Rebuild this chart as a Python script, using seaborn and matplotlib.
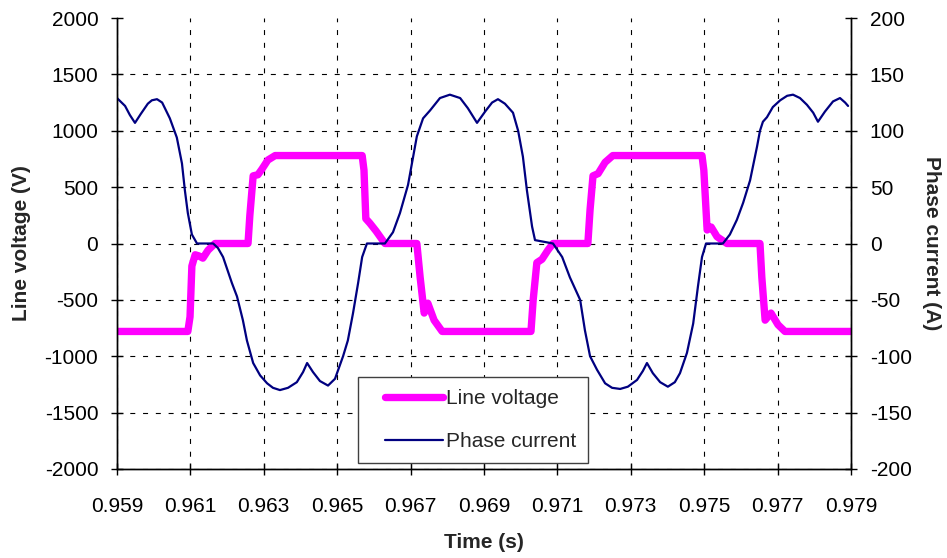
import numpy as np
import pandas as pd
import matplotlib
matplotlib.use("Agg")
import matplotlib.pyplot as plt
from matplotlib.lines import Line2D
from matplotlib.legend_handler import HandlerLine2D
import seaborn as sns

# ---------------- data ----------------
time_v = [0.95900, 0.96093, 0.96099, 0.96104, 0.96113, 0.96123, 0.96134, 0.96148, 0.96167,
          0.96257, 0.96262, 0.96271, 0.96284, 0.96295, 0.96311, 0.96331,
          0.96568, 0.96573, 0.96578, 0.96589, 0.96606, 0.96630,
          0.96717, 0.96726, 0.96737, 0.96747, 0.96764, 0.96786,
          0.97028, 0.97034, 0.97044, 0.97058, 0.97074, 0.97088,
          0.97183, 0.97189, 0.97197, 0.97211, 0.97230, 0.97251,
          0.97494, 0.97499, 0.97508, 0.97519, 0.97535, 0.97562,
          0.97652, 0.97657, 0.97666, 0.97682, 0.97701, 0.97720, 0.97900]
line_voltage = [-780, -780, -650, -200, -100, -110, -130, -60, 0,
                0, 250, 600, 610, 660, 740, 780,
                780, 650, 220, 180, 110, 0,
                0, -300, -617, -530, -680, -780,
                -780, -500, -170, -140, -60, 0,
                0, 300, 600, 620, 720, 780,
                780, 650, 120, 146, 60, 0,
                0, -300, -680, -617, -720, -780, -780]

time_i = [0.95900, 0.95922, 0.95935, 0.95949, 0.95965, 0.95984, 0.95995, 0.96009, 0.96023,
          0.96044, 0.96063, 0.96077, 0.96085, 0.96093, 0.96104, 0.96118, 0.96162, 0.96175,
          0.96189, 0.96213, 0.96227, 0.96243, 0.96254, 0.96271, 0.96290, 0.96309, 0.96325,
          0.96344, 0.96366, 0.96390, 0.96407, 0.96418, 0.96434, 0.96453, 0.96475, 0.96494,
          0.96516, 0.96529, 0.96543, 0.96557, 0.96568, 0.96581, 0.96630, 0.96652, 0.96671,
          0.96693, 0.96717, 0.96734, 0.96753, 0.96780, 0.96807, 0.96835, 0.96856, 0.96881,
          0.96903, 0.96922, 0.96938, 0.96957, 0.96979, 0.96993, 0.97006, 0.97017, 0.97031,
          0.97039, 0.97088, 0.97113, 0.97134, 0.97162, 0.97175, 0.97189, 0.97208, 0.97230,
          0.97249, 0.97271, 0.97292, 0.97317, 0.97333, 0.97344, 0.97360, 0.97380, 0.97401,
          0.97420, 0.97434, 0.97453, 0.97470, 0.97483, 0.97494, 0.97505, 0.97551, 0.97570,
          0.97589, 0.97606, 0.97625, 0.97644, 0.97652, 0.97660, 0.97671, 0.97687, 0.97707,
          0.97726, 0.97742, 0.97761, 0.97780, 0.97797, 0.97810, 0.97829, 0.97851, 0.97870,
          0.97884, 0.97892]
phase_current = [129, 122, 114, 107, 115, 124, 127, 128, 125,
                 111, 94, 71, 47, 27, 8, 0, 0, -4,
                 -12, -35, -47, -68, -86, -106, -117, -124, -128,
                 -130, -128, -123, -114, -106, -114, -122, -126, -120,
                 -100, -86, -62, -35, -12, 0, 0, 10, 27,
                 52, 95, 111, 118, 129, 132, 129, 120, 107,
                 117, 125, 128, 124, 116, 100, 77, 47, 15,
                 3, 0, -12, -30, -50, -77, -100, -112, -124,
                 -128, -129, -127, -121, -113, -106, -115, -123, -127,
                 -123, -115, -97, -71, -38, -12, 0, 0, 8,
                 21, 36, 56, 86, 100, 108, 112, 121, 127,
                 131, 132, 129, 123, 116, 108, 117, 126, 129,
                 125, 122]

x_ticks = [0.959, 0.961, 0.963, 0.965, 0.967, 0.969, 0.971, 0.973, 0.975, 0.977, 0.979]
v_ticks = [-2000, -1500, -1000, -500, 0, 500, 1000, 1500, 2000]
i_ticks = [-200, -150, -100, -50, 0, 50, 100, 150, 200]

df_v = pd.DataFrame({"t": time_v, "v": line_voltage})
df_i = pd.DataFrame({"t": time_i, "i": phase_current})

# ---------------- style ----------------
sns.set_style("white")
plt.rcParams["font.family"] = ["Liberation Sans", "DejaVu Sans"]
FS = 15
MAGENTA = "#FF00FF"
NAVY = "#000080"

fig = plt.figure(figsize=(9.47, 5.58), dpi=100)
ax = fig.add_axes([117 / 947, (558 - 469) / 558, 734 / 947, 451 / 558])

sns.lineplot(data=df_v, x="t", y="v", ax=ax, color=MAGENTA, linewidth=5.3,
             estimator=None, sort=False, legend=False,
             solid_capstyle="round", solid_joinstyle="round")

ax2 = ax.twinx()
sns.lineplot(data=df_i, x="t", y="i", ax=ax2, color=NAVY, linewidth=1.6,
             estimator=None, sort=False, legend=False,
             solid_joinstyle="round")

ax.set_xlim(x_ticks[0], x_ticks[-1])
ax.set_ylim(v_ticks[0], v_ticks[-1])
ax2.set_ylim(i_ticks[0], i_ticks[-1])

ax.set_xticks(x_ticks)
ax.set_xticklabels([f"{v:.3f}" for v in x_ticks])
ax.set_yticks(v_ticks)
ax.set_yticklabels([str(v) for v in v_ticks])
ax2.set_yticks(i_ticks)
ax2.set_yticklabels([str(v) for v in i_ticks])

ax.grid(True, color="black", linestyle=(0, (4.5, 7)), linewidth=0.8)
ax2.grid(False)
for tk in ax.yaxis.get_major_ticks():
    if abs(tk.get_loc() - v_ticks[-1]) < 1e-9:
        tk.gridline.set_visible(False)

for a in (ax, ax2):
    a.spines["top"].set_visible(False)
    for s in ("left", "right", "bottom"):
        a.spines[s].set_color("black")
        a.spines[s].set_linewidth(1.0)

ax.tick_params(axis="both", direction="inout", length=9, width=1, colors="black",
               labelsize=FS, left=True, bottom=True)
ax.tick_params(axis="y", pad=9)
ax.tick_params(axis="x", pad=16)
ax2.tick_params(axis="y", direction="inout", length=9, width=1, colors="black",
                labelsize=FS, right=True, pad=9)

ax.set_xlabel("Time (s)", fontsize=FS, fontweight="bold", va="center")
ax.set_ylabel("Line voltage (V)", fontsize=FS, fontweight="bold", va="center", rotation=90)
ax2.set_ylabel("Phase current (A)", fontsize=FS, fontweight="bold", va="center", rotation=270)
ax.xaxis.set_label_coords(0.5, (469 - 543) / 451)
ax.yaxis.set_label_coords((21 - 117) / 734, 0.5)
ax2.yaxis.set_label_coords((931 - 117) / 734, 0.5)

handles = [Line2D([], [], color=MAGENTA, linewidth=5.3, solid_capstyle="round"),
           Line2D([], [], color=NAVY, linewidth=1.6)]
leg = ax2.legend(handles, ["Line voltage", "Phase current"],
                 loc="lower left", bbox_to_anchor=((358 - 117) / 734, (469 - 463) / 451),
                 borderaxespad=0, frameon=True, fancybox=False, framealpha=1,
                 edgecolor="#404040", fontsize=FS, handlelength=3.52,
                 handletextpad=0.15, borderpad=0.56, labelspacing=1.17,
                 handler_map={Line2D: HandlerLine2D(xpad=0.74)})
leg.get_frame().set_linewidth(1.0)

fig.savefig("out.png", dpi=100)
